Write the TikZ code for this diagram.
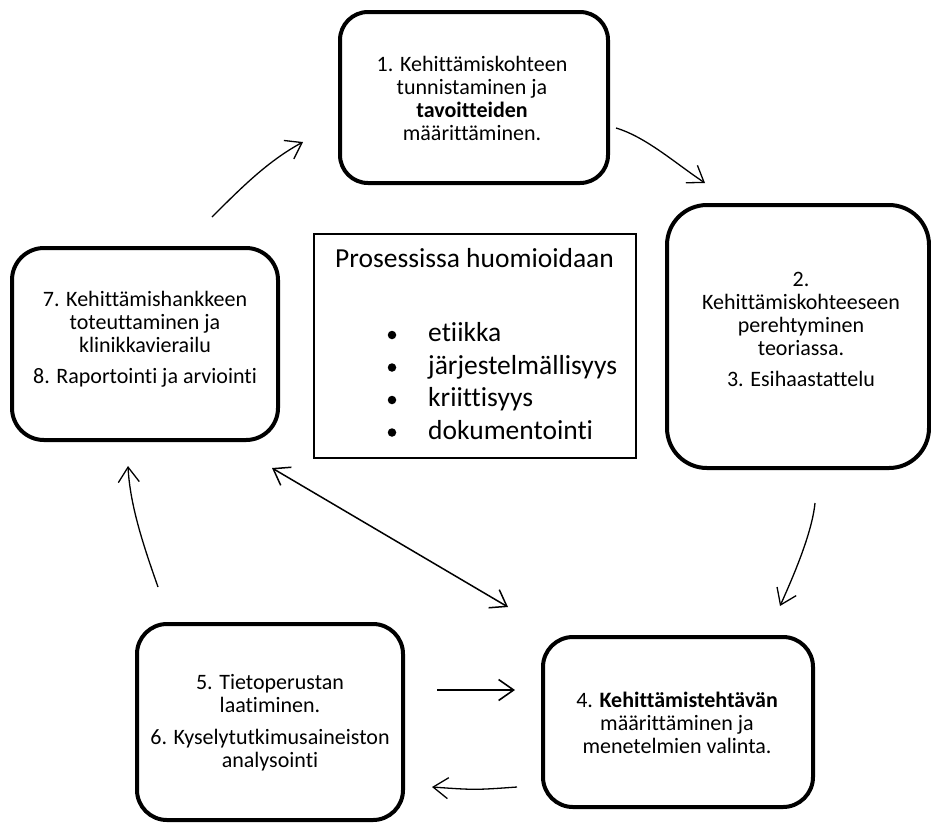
\documentclass[tikz,border=0pt]{standalone}
\usepackage{fontspec}
\setmainfont{Carlito}[Ligatures=NoCommon]
\usetikzlibrary{arrows.meta}
\begin{document}
\begin{tikzpicture}[x=1pt,y=-1pt,
  stage/.style={draw, line width=4pt, rounded corners=#1, inner sep=0pt},
  stage/.default=30pt,
  boxtext/.style={align=center, inner sep=0pt, font=\fontsize{22}{23}\selectfont},
  frame/.style={draw, line width=1.2pt, inner sep=0pt},
  listtxt/.style={anchor=base west, inner sep=0pt, font=\fontsize{27.5}{33}\selectfont},
  dot/.style={circle, fill, inner sep=0pt, minimum size=8.5pt},
  barb/.tip={Straight Barb[length=15pt,width=21pt]},
  flow/.style={line width=1.3pt, -barb},
  flowboth/.style={line width=1.5pt, barb-barb}
]
\useasboundingbox (0,0) rectangle (931,823);

% stage boxes
\node[stage=28pt, minimum width=268pt, minimum height=171pt] (b1) at (474,97.5) {};
\node[stage=40pt, minimum width=262pt, minimum height=263pt] (b2) at (798,336.5) {};
\node[stage=30pt, minimum width=270pt, minimum height=170pt] (b4) at (678,722) {};
\node[stage=30pt, minimum width=266pt, minimum height=196pt] (b5) at (270,722) {};
\node[stage=32pt, minimum width=266pt, minimum height=192pt] (b7) at (145,344) {};

\node[boxtext] (t1) at (472,98)
  {1. Kehittämiskohteen\\tunnistaminen ja\\\textbf{tavoitteiden}\\määrittäminen.};
\node[boxtext] (t2) at (801,329)
  {2.\\Kehittämiskohteeseen\\perehtyminen\\teoriassa.\\[8pt]3. Esihaastattelu};
\node[boxtext] (t4) at (677,723)
  {4. \textbf{Kehittämistehtävän}\\määrittäminen ja\\menetelmien valinta.};
\node[boxtext] (t5) at (270,723)
  {5. Tietoperustan\\laatiminen.\\[9pt]6. Kyselytutkimusaineiston\\analysointi};
\node[boxtext] (t7) at (145,339)
  {7. Kehittämishankkeen\\toteuttaminen ja\\klinikkavierailu\\[8pt]8. Raportointi ja arviointi};

% centre frame
\node[frame, minimum width=322pt, minimum height=224pt] (fr) at (475,346) {};
\node[listtxt] (hd) at (335,267) {Prosessissa huomioidaan};
\node[dot] (d1) at (392,335) {};
\node[dot] (d2) at (392,367.5) {};
\node[dot] (d3) at (392,400) {};
\node[dot] (d4) at (392,432.5) {};
\node[listtxt] (i1) at (428,341.5) {etiikka};
\node[listtxt] (i2) at (428,374) {järjestelmällisyys};
\node[listtxt] (i3) at (428,406.5) {kriittisyys};
\node[listtxt] (i4) at (428,439) {dokumentointi};

% arrow end points
\coordinate (s71) at (212,217); \coordinate (e71) at (303,142);
\coordinate (s12) at (616,128); \coordinate (e12) at (705,183);
\coordinate (s24) at (815,503); \coordinate (e24) at (780,606);
\coordinate (s57) at (158,587); \coordinate (e57) at (128,466);
\coordinate (sd) at (272,468);  \coordinate (ed) at (508,607);
\coordinate (s54) at (437,690); \coordinate (e54) at (515,690);
\coordinate (s45) at (517,787); \coordinate (e45) at (432,787);

\draw[flow] (s71) .. controls (242,187) and (268,161) .. (e71);
\draw[flow] (s12) .. controls (646,137) and (675,163) .. (e12);
\draw[flow] (s24) .. controls (812,533) and (793.5,576) .. (e24);
\draw[flow] (s57) .. controls (144,547) and (130,506) .. (e57);
\draw[flowboth] (sd) -- (ed);
\draw[flow, line width=1.6pt] (s54) -- (e54);
\draw[flow] (s45) .. controls (475,790) .. (e45);
\end{tikzpicture}
\end{document}
